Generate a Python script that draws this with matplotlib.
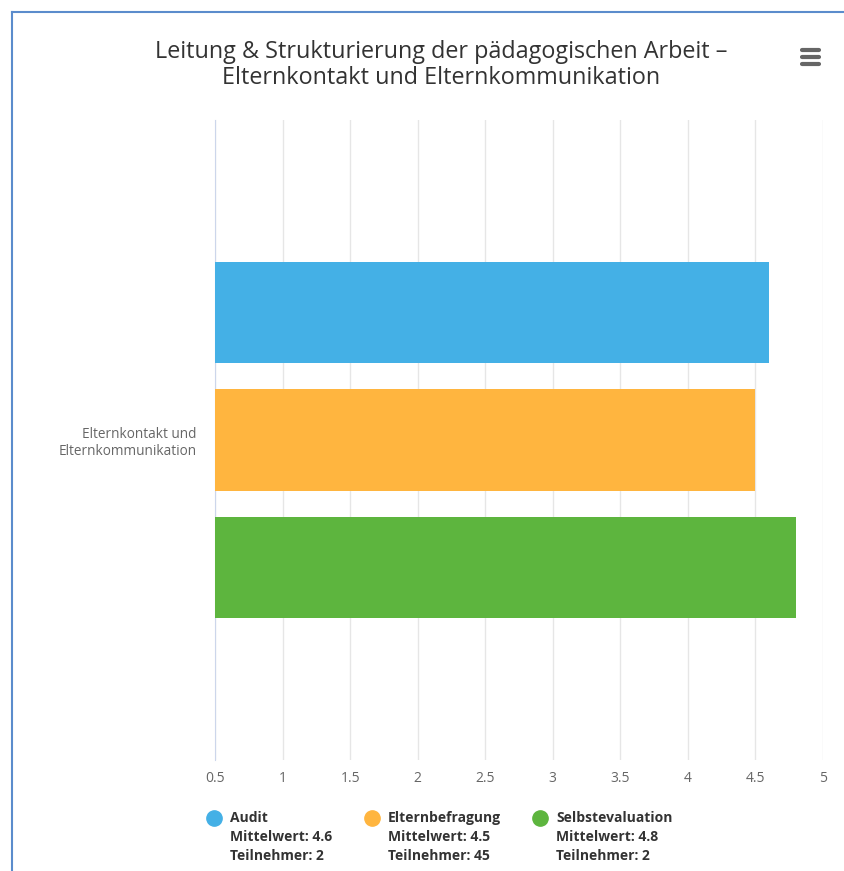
import numpy as np
import matplotlib
matplotlib.use('Agg')
import matplotlib.pyplot as plt
from matplotlib.lines import Line2D

category = 'Elternkontakt und\nElternkommunikation'
series = ['Audit', 'Elternbefragung', 'Selbstevaluation']
values = [4.6, 4.5, 4.8]
participants = [2, 45, 2]
colors = ['#44b0e6', '#ffb53f', '#5db53e']
xticks = [0.5, 1, 1.5, 2, 2.5, 3, 3.5, 4, 4.5, 5]

plt.rcParams['font.family'] = ['Open Sans', 'DejaVu Sans']

fig = plt.figure(figsize=(8.44, 8.71), dpi=100)
W, H = 844, 871

# frame lines of the screenshot
fig.add_artist(Line2D([12/W, 12/W], [0, 1 - 12/H], color='#5b8ccc', lw=1.5))
fig.add_artist(Line2D([12/W, 1], [1 - 12/H, 1 - 12/H], color='#5b8ccc', lw=1.5))

ax = fig.add_axes([215/W, 1 - 760/H, (823 - 215)/W, (760 - 120)/H])

offsets = [-0.199, 0.0, 0.199]
for i in range(len(series)):
    ax.barh(offsets[i], values[i] - 0.5, left=0.5, height=0.158, color=colors[i], zorder=3)

ax.set_xlim(0.5, 5)
ax.set_ylim(0.5, -0.5)
ax.set_xticks(xticks)
ax.set_xticklabels([('%g' % t) for t in xticks], color='#666666', fontsize=10)
ax.set_yticks([0])
ax.set_yticklabels([category], color='#666666', fontsize=9.8, ha='right',
                   multialignment='right', linespacing=1.2)
ax.tick_params(axis='both', length=0)
ax.tick_params(axis='x', pad=8)
ax.tick_params(axis='y', pad=13)
ax.grid(axis='x', color='#e6e6e6', lw=1, zorder=0)
for s in ['top', 'right', 'bottom']:
    ax.spines[s].set_visible(False)
ax.spines['left'].set_color('#ccd6eb')

fig.text(441/W, 1 - 52/H, 'Leitung & Strukturierung der pädagogischen Arbeit –',
         ha='center', va='center', fontsize=16.8, color='#333333')
fig.text(441/W, 1 - 78/H, 'Elternkontakt und Elternkommunikation',
         ha='center', va='center', fontsize=16.8, color='#333333')

# menu icon
for dy in [50, 57, 64]:
    fig.add_artist(Line2D([802/W, 819/W], [1 - dy/H, 1 - dy/H], color='#666666',
                          lw=3, solid_capstyle='round'))

# legend
leg_x = [214, 372, 540]
for i in range(len(series)):
    fig.add_artist(Line2D([leg_x[i]/W], [1 - 818/H], marker='o', markersize=11,
                          color=colors[i], lw=0))
    lines = [series[i], 'Mittelwert: %g' % values[i], 'Teilnehmer: %d' % participants[i]]
    for j, t in enumerate(lines):
        fig.text((leg_x[i] + 16)/W, 1 - (818 + 19*j)/H, t, ha='left', va='center',
                 fontsize=10, fontweight='bold', color='#333333')

fig.savefig('out.png', dpi=100)
